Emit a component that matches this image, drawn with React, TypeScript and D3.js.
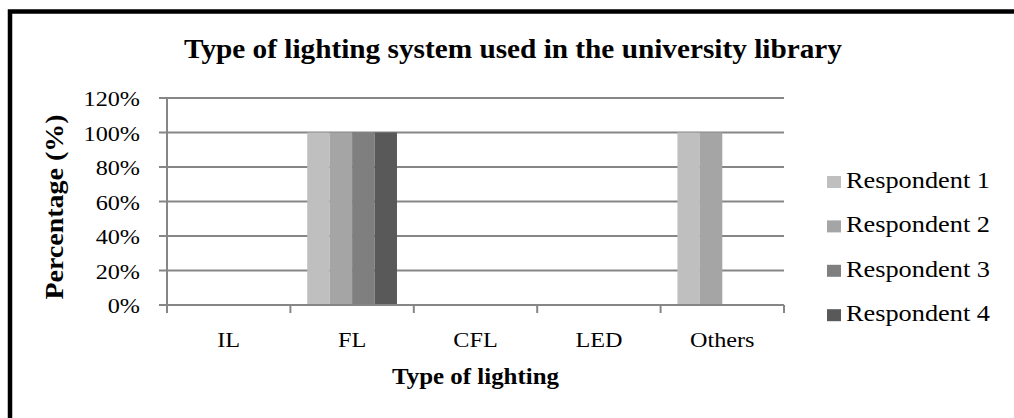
import React from 'react'
import * as d3 from 'd3'

const categories = ['IL', 'FL', 'CFL', 'LED', 'Others']
const seriesNames = ['Respondent 1', 'Respondent 2', 'Respondent 3', 'Respondent 4']
const respondent1 = [0, 1, 0, 0, 1]
const respondent2 = [0, 1, 0, 0, 1]
const respondent3 = [0, 1, 0, 0, 0]
const respondent4 = [0, 1, 0, 0, 0]
const yTicks = [0, 0.2, 0.4, 0.6, 0.8, 1.0, 1.2]
const colors = ['#bfbfbf', '#a5a5a5', '#7f7f7f', '#595959']

const W = 1014
const H = 418
const FONT = '"Liberation Serif", "Times New Roman", serif'
const GRID = '#868686'

const plot = { left: 167, right: 784, top: 98, bottom: 305 }

// text in the source is stretched sideways a bit
const Txt = ({ x, y, size, bold = false, anchor = 'start', sx = 1.18, children }: any) => (
  <text
    transform={`translate(${x},${y}) scale(${sx},1)`}
    fontFamily={FONT}
    fontSize={size}
    fontWeight={bold ? 'bold' : 'normal'}
    textAnchor={anchor}
    fill="#000"
  >
    {children}
  </text>
)

export default function App() {
  const series = [respondent1, respondent2, respondent3, respondent4]

  const x = d3.scaleBand<string>()
    .domain(categories)
    .range([plot.left, plot.right])
    .paddingInner(0)
    .paddingOuter(0)

  const xInner = d3.scaleBand<string>()
    .domain(seriesNames)
    .range([0, x.bandwidth()])
    .paddingInner(0)
    .paddingOuter(0.75)

  const y = d3.scaleLinear()
    .domain([0, 1.2])
    .range([plot.bottom, plot.top])

  const fmt = d3.format('.0%')

  const boundaries = categories.map(c => x(c) as number).concat([plot.right])

  return (
    <svg
      width={W}
      height={H}
      style={{ position: 'absolute', left: 0, top: 0, background: '#fff' }}
    >
      <rect x={10} y={11.5} width={1030} height={430} fill="#fff" stroke="#000" strokeWidth={4.5} />

      <Txt x={513} y={58} size={26.5} bold anchor="middle" sx={1.105}>
        Type of lighting system used in the university library
      </Txt>

      {/* gridlines + y ticks */}
      {yTicks.map(t => (
        <g key={t}>
          <line x1={plot.left - 8} x2={plot.right} y1={y(t)} y2={y(t)} stroke={GRID} strokeWidth={2} />
          <Txt x={140} y={y(t) + 8} size={22} anchor="end" sx={1.1}>{fmt(t)}</Txt>
        </g>
      ))}

      {/* bars */}
      {series.map((vals, si) =>
        vals.map((v, ci) => v > 0 ? (
          <rect
            key={`${si}-${ci}`}
            x={(x(categories[ci]) as number) + (xInner(seriesNames[si]) as number)}
            y={y(v)}
            width={xInner.bandwidth()}
            height={y(0) - y(v)}
            fill={colors[si]}
          />
        ) : null)
      )}

      {/* axes */}
      <line x1={plot.left} x2={plot.left} y1={plot.top} y2={plot.bottom} stroke={GRID} strokeWidth={2} />
      <line x1={plot.left - 8} x2={plot.right} y1={plot.bottom} y2={plot.bottom} stroke={GRID} strokeWidth={2} />
      {boundaries.map((b, i) => (
        <line key={i} x1={b} x2={b} y1={plot.bottom} y2={plot.bottom + 8} stroke={GRID} strokeWidth={2} />
      ))}

      {categories.map(c => (
        <Txt key={c} x={(x(c) as number) + x.bandwidth() / 2} y={347} size={22} anchor="middle" sx={1.1}>{c}</Txt>
      ))}

      <Txt x={(plot.left + plot.right) / 2} y={384} size={23.5} bold anchor="middle" sx={1.06}>
        Type of lighting
      </Txt>

      <text
        transform={`translate(63,207) rotate(-90) scale(1.12,1)`}
        fontFamily={FONT}
        fontSize={25}
        fontWeight="bold"
        textAnchor="middle"
      >
        Percentage (%)
      </text>

      {/* legend */}
      {seriesNames.map((s, i) => {
        const ly = 188 + i * 44.4
        return (
          <g key={s}>
            <rect x={827} y={ly - 12} width={14} height={12} fill={colors[i]} />
            <Txt x={846} y={ly} size={22.5} sx={1.17}>{s}</Txt>
          </g>
        )
      })}
    </svg>
  )
}
